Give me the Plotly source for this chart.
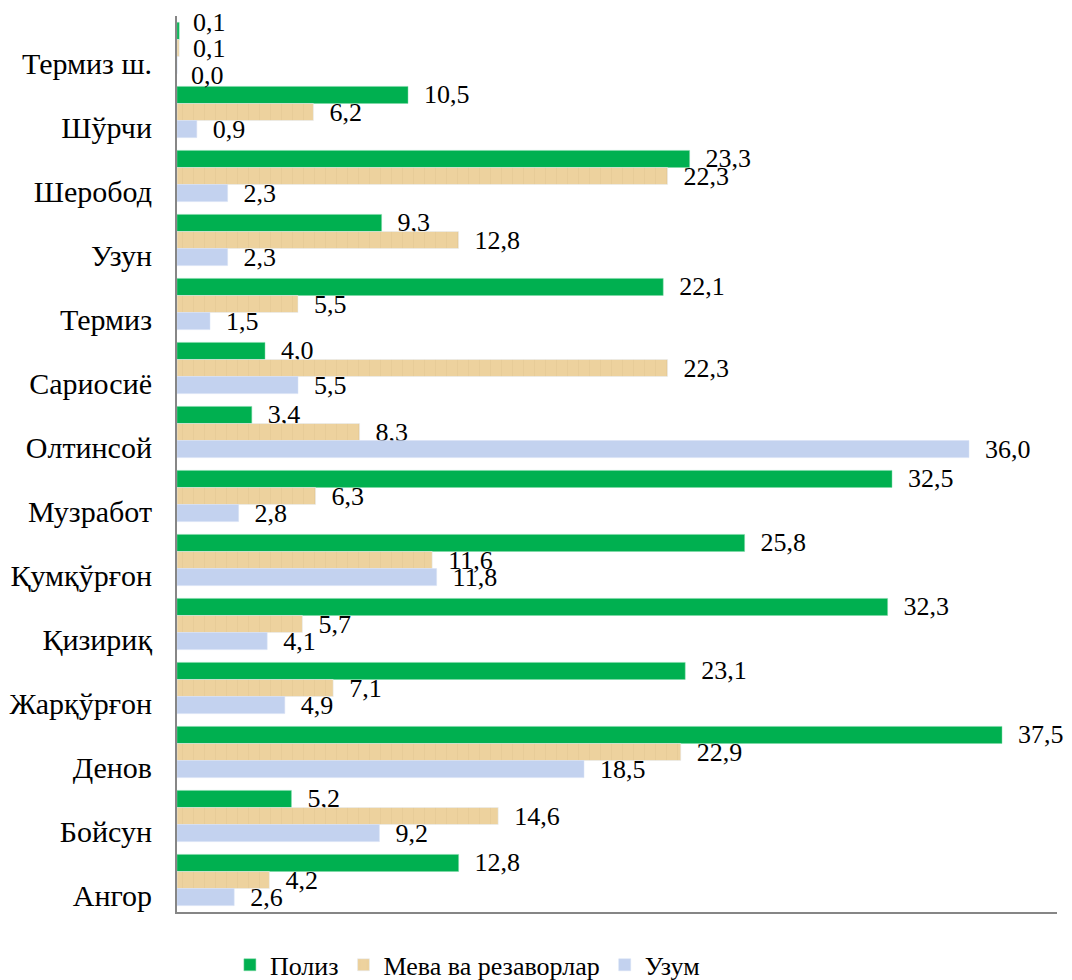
import plotly.graph_objects as go

categories = ["Термиз ш.", "Шўрчи", "Шеробод", "Узун", "Термиз", "Сариосиё",
              "Олтинсой", "Музработ", "Қумқўрғон", "Қизириқ", "Жарқўрғон",
              "Денов", "Бойсун", "Ангор"]
poliz = [0.1, 10.5, 23.3, 9.3, 22.1, 4.0, 3.4, 32.5, 25.8, 32.3, 23.1, 37.5, 5.2, 12.8]
meva = [0.1, 6.2, 22.3, 12.8, 5.5, 22.3, 8.3, 6.3, 11.6, 5.7, 7.1, 22.9, 14.6, 4.2]
uzum = [0.0, 0.9, 2.3, 2.3, 1.5, 5.5, 36.0, 2.8, 11.8, 4.1, 4.9, 18.5, 9.2, 2.6]
series_names = ["Полиз", "Мева ва резаворлар", "Узум"]

FONT = "Liberation Serif"
PAD = "\u00a0\u00a0"


def fmt(v):
    return f"{v:.1f}".replace(".", ",")


def labels(vals):
    # first category's labels are drawn as spread-out annotations below
    return [""] + [PAD + fmt(v) for v in vals[1:]]


fig = go.Figure()
fig.add_trace(go.Bar(
    y=categories, x=poliz, orientation="h", name=series_names[0],
    marker=dict(color="#00B050", line=dict(color="#7FD8A7", width=0.5)),
    text=labels(poliz), textposition="outside",
))
fig.add_trace(go.Bar(
    y=categories, x=meva, orientation="h", name=series_names[1],
    marker=dict(color="#EBCD96",
                pattern=dict(shape="|", fgcolor="#DFC48F", bgcolor="#EDD29E",
                             size=11, solidity=0.08)),
    text=labels(meva), textposition="outside",
))
fig.add_trace(go.Bar(
    y=categories, x=uzum, orientation="h", name=series_names[2],
    marker=dict(color="#C3D2EF", line=dict(color="#D6E0F4", width=0.5)),
    text=labels(uzum), textposition="outside",
))

fig.update_traces(textfont=dict(family=FONT, size=26, color="black"),
                  cliponaxis=False, constraintext="none")

# spread labels of the near-zero first category so they don't overlap
for series, ys in zip([poliz, meva, uzum], [26, 0, -27]):
    fig.add_annotation(x=series[0], y=categories[0], xref="x", yref="y",
                       text=fmt(series[0]), showarrow=False, xanchor="left",
                       xshift=12, yshift=ys,
                       font=dict(family=FONT, size=26, color="black"))

fig.update_layout(
    width=1064, height=972,
    margin=dict(l=169, r=15, t=8, b=68, autoexpand=False),
    plot_bgcolor="white", paper_bgcolor="white",
    barmode="group", bargap=0.2, bargroupgap=0,
    font=dict(family=FONT, size=26, color="black"),
    xaxis=dict(range=[0, 40], showticklabels=False, showgrid=False, zeroline=False,
               showline=True, linecolor="#868686", linewidth=2, ticks="",
               automargin=False),
    yaxis=dict(range=[len(categories) - 0.5, -0.5], showgrid=False, zeroline=False,
               showline=True, linecolor="#868686", linewidth=2, ticks="",
               automargin=False, ticklabelstandoff=17, ticklabelshift=-15,
               tickfont=dict(family=FONT, size=30, color="black")),
    legend=dict(orientation="h", x=0.33, xanchor="center", y=-0.059, yanchor="middle",
                font=dict(family=FONT, size=26, color="black"),
                itemwidth=30, tracegroupgap=0),
    showlegend=True,
)

fig.write_html("out.html")
